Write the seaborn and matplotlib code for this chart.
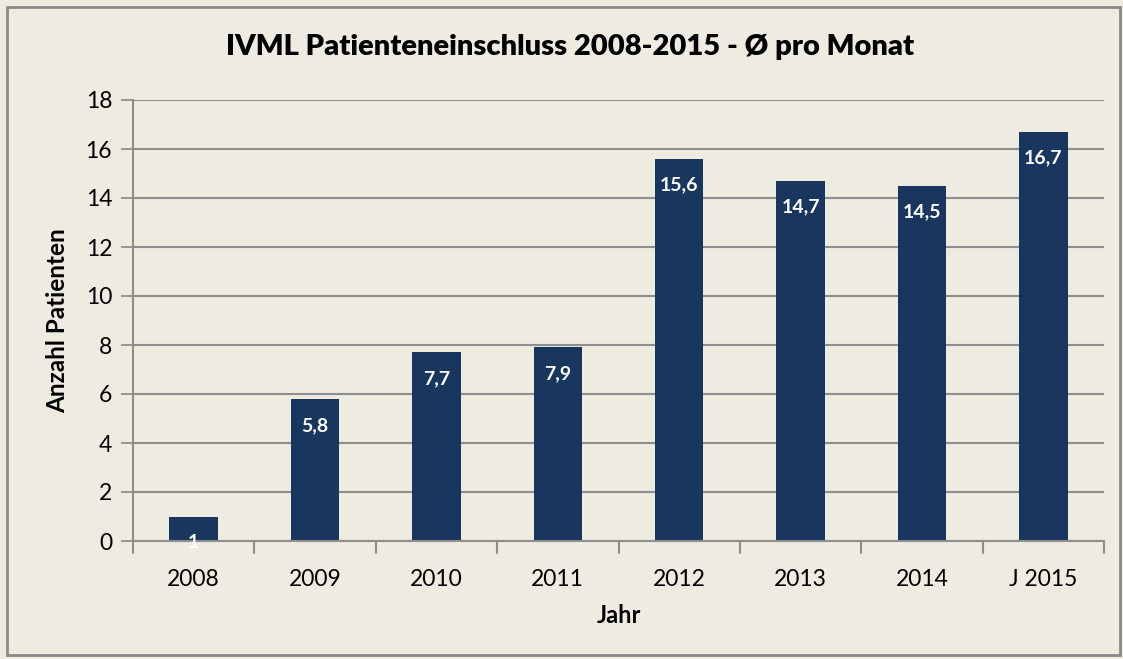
import matplotlib
matplotlib.use("Agg")
import matplotlib.pyplot as plt
import seaborn as sns
import pandas as pd
from matplotlib.patches import Rectangle

categories = ["2008", "2009", "2010", "2011", "2012", "2013", "2014", "J 2015"]
values = [1, 5.8, 7.7, 7.9, 15.6, 14.7, 14.5, 16.7]
value_labels = ["1", "5,8", "7,7", "7,9", "15,6", "14,7", "14,5", "16,7"]
yticks = [0, 2, 4, 6, 8, 10, 12, 14, 16, 18]

bg = "#EEEBE0"
bar_color = "#18365E"
grid_color = "#8E8E8E"

sns.set_theme(style="white")
plt.rcParams['font.family'] = ['Lato', 'DejaVu Sans']
plt.rcParams['text.color'] = 'black'
plt.rcParams['axes.labelcolor'] = 'black'
plt.rcParams['xtick.labelcolor'] = 'black'
plt.rcParams['ytick.labelcolor'] = 'black'

df = pd.DataFrame({"Jahr": categories, "Wert": values})

fig = plt.figure(figsize=(11.23, 6.59), dpi=100, facecolor=bg)
ax = fig.add_axes([133/1123, 1-541/659, (1104-133)/1123, (541-100)/659])
ax.set_facecolor(bg)

sns.barplot(data=df, x="Jahr", y="Wert", color=bar_color, width=0.4,
            saturation=1, ax=ax, zorder=3, linewidth=0)

ax.set_ylim(0, 18)
ax.set_xlim(-0.5, len(categories) - 0.5)
ax.set_yticks(yticks)
ax.set_yticklabels([str(t) for t in yticks], fontsize=16.5, color='black')
ax.tick_params(axis='y', length=9, width=1.3, color=grid_color, pad=6, left=True, direction='out')
ax.set_xticks(range(len(categories)))
ax.set_xticklabels(categories, fontsize=16.5, color='black')
ax.tick_params(axis='x', length=0, pad=20)
for b in [i - 0.5 for i in range(len(categories) + 1)]:
    ax.plot([b, b], [0, -0.028], transform=ax.get_xaxis_transform(), color=grid_color,
            lw=1.5, clip_on=False, zorder=4)

ax.yaxis.grid(True, color=grid_color, lw=1.5, zorder=0)
ax.xaxis.grid(False)
for s in ["top", "right"]:
    ax.spines[s].set_visible(False)
ax.spines["left"].set_color(grid_color)
ax.spines["left"].set_linewidth(1.5)
ax.spines["bottom"].set_color(grid_color)
ax.spines["bottom"].set_linewidth(1.5)
ax.spines["bottom"].set_zorder(4)

for i, (v, lab) in enumerate(zip(values, value_labels)):
    ax.annotate(lab, xy=(i, v), xytext=(0, -19), textcoords="offset points",
                ha="center", va="center", color="white", fontsize=14,
                fontweight="bold", zorder=5, annotation_clip=False)

ax.set_xlabel("Jahr", fontsize=17, fontweight="bold", labelpad=10, color='black')
ax.set_ylabel("Anzahl Patienten", fontsize=17.5, fontweight="bold", labelpad=12, color='black')

fig.text(570/1123, 1-47/659, "IVML Patienteneinschluss 2008-2015 - Ø pro Monat",
         ha="center", va="center", fontsize=21, fontweight="heavy", color='black')

fig.patches.append(Rectangle((7/1123, 4/659), 1113/1123, 648/659, transform=fig.transFigure,
                             fill=False, edgecolor="#8A8A8A", lw=2))

fig.savefig("out.png", dpi=100, facecolor=bg)
